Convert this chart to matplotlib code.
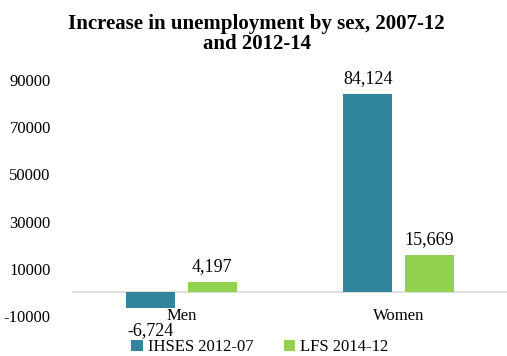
import matplotlib
matplotlib.use("Agg")
import matplotlib.pyplot as plt
import numpy as np

plt.rcParams['font.family'] = ['Liberation Serif', 'DejaVu Serif']

categories = ["Men", "Women"]
series_names = ["IHSES 2012-07", "LFS 2014-12"]
ihses = [-6724, 84124]
lfs = [4197, 15669]
value_labels = [["-6,724", "84,124"], ["4,197", "15,669"]]
yticks = [-10000, 10000, 30000, 50000, 70000, 90000]
colors = ["#31859C", "#92D050"]

fig = plt.figure(figsize=(5.07, 3.56), dpi=100)
ax = fig.add_axes([73/507, 40/356, 1 - 73/507, 236/356])

# x axis line sits at zero (set before tick labels, it resets them)
for s in ["top", "right", "left"]:
    ax.spines[s].set_visible(False)
ax.spines["bottom"].set_position(("data", 0))
ax.spines["bottom"].set_color("#D9D9D9")
ax.spines["bottom"].set_linewidth(1.2)

x = np.arange(len(categories))
w = 0.224
off = 0.1416
for i, (vals, col, name) in enumerate(zip([ihses, lfs], colors, series_names)):
    b = ax.bar(x + (i*2 - 1)*off, vals, w, color=col, label=name, zorder=3)
    for rect, v, lab in zip(b, vals, value_labels[i]):
        cx = rect.get_x() + rect.get_width()/2
        if v >= 0:
            ax.annotate(lab, (cx, v), xytext=(0, 5), textcoords="offset points",
                        ha="center", va="bottom", fontsize=13)
        else:
            ax.annotate(lab, (cx, v), xytext=(0, -10), textcoords="offset points",
                        ha="center", va="top", fontsize=13)

ax.set_xlim(-0.5, 1.5)
ax.set_ylim(-10000, 90000)
ax.set_yticks(yticks)
ax.set_yticklabels([str(t) for t in yticks], fontsize=12)
ax.set_xticks(x)
ax.set_xticklabels(categories, fontsize=12)
ax.tick_params(axis="y", length=0, pad=16)
ax.tick_params(axis="x", length=0, pad=11)

fig.text(0.506, 0.962, "Increase in unemployment by sex, 2007-12\nand 2012-14",
         ha="center", va="top", fontsize=15, fontweight="bold", linespacing=1.0)

fig.legend(loc="center", bbox_to_anchor=(0.513, 0.024), ncol=2, frameon=False,
           fontsize=12, handlelength=0.7, handleheight=0.7, handletextpad=0.3,
           columnspacing=1.8, borderpad=0)

fig.savefig("out.png", dpi=100)
